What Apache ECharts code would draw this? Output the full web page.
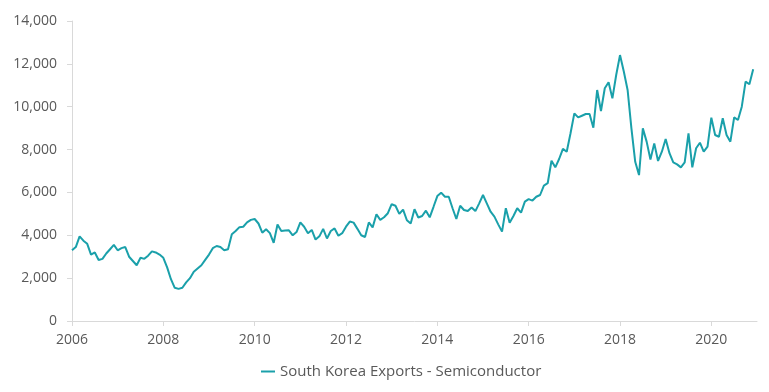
<!DOCTYPE html>
<html>
<head>
<meta charset="utf-8">
<script src="https://cdn.jsdelivr.net/npm/echarts@6/dist/echarts.min.js"></script>
<style>html,body{margin:0;padding:0;background:#fff}#chart{width:769px;height:392px}</style>
</head>
<body>
<div id="chart"></div>
<script>
// Monthly values, Jan 2006 - Dec 2020
var startYear = 2006;
var endYear = 2021; // axis end (Jan 2021)
var seriesName = 'South Korea Exports - Semiconductor';
var v2006 = [3300, 3450, 3950, 3750, 3600, 3100, 3200, 2850, 2900, 3150, 3350, 3550];
var v2007 = [3300, 3400, 3450, 3000, 2800, 2600, 2950, 2900, 3050, 3250, 3200, 3100];
var v2008 = [2950, 2500, 1950, 1550, 1500, 1550, 1800, 2000, 2300, 2450, 2600, 2850];
var v2009 = [3100, 3400, 3500, 3450, 3300, 3350, 4050, 4200, 4380, 4400, 4600, 4720];
var v2010 = [4760, 4550, 4120, 4280, 4100, 3650, 4500, 4200, 4220, 4230, 4000, 4150];
var v2011 = [4600, 4400, 4100, 4250, 3800, 3950, 4300, 3850, 4200, 4320, 3980, 4100];
var v2012 = [4400, 4640, 4590, 4300, 4000, 3920, 4600, 4370, 4980, 4720, 4840, 5030];
var v2013 = [5450, 5380, 5000, 5200, 4700, 4550, 5220, 4830, 4900, 5150, 4840, 5330];
var v2014 = [5830, 5990, 5800, 5800, 5260, 4760, 5380, 5180, 5130, 5300, 5130, 5490];
var v2015 = [5880, 5490, 5100, 4870, 4510, 4170, 5260, 4590, 4900, 5260, 5060, 5570];
var v2016 = [5690, 5620, 5800, 5880, 6320, 6430, 7480, 7170, 7560, 8030, 7900, 8760];
var v2017 = [9690, 9500, 9580, 9660, 9660, 9020, 10780, 9800, 10860, 11140, 10390, 11480];
var v2018 = [12410, 11640, 10780, 8990, 7430, 6810, 8990, 8370, 7540, 8290, 7470, 7900];
var v2019 = [8490, 7830, 7400, 7310, 7170, 7400, 8760, 7170, 8060, 8320, 7900, 8140];
var v2020 = [9490, 8680, 8600, 9460, 8680, 8370, 9500, 9380, 10000, 11170, 11050, 11750];
var yTicks = [0, 2000, 4000, 6000, 8000, 10000, 12000, 14000];

var values = [].concat(v2006, v2007, v2008, v2009, v2010, v2011, v2012, v2013, v2014,
  v2015, v2016, v2017, v2018, v2019, v2020);
var months = [];
for (var y = startYear; y < endYear; y++) {
  for (var m = 1; m <= 12; m++) months.push(y + '-' + (m < 10 ? '0' : '') + m);
}
months.push(endYear + '-01');

function isEvenYearStart(idx) {
  var c = months[idx];
  return c.slice(5) === '01' && parseInt(c.slice(0, 4), 10) % 2 === 0;
}

var chart = echarts.init(document.getElementById('chart'), null, {renderer: 'canvas'});
var font = '"Open Sans", "Noto Sans", sans-serif';
chart.setOption({
  animation: false,
  backgroundColor: '#ffffff',
  grid: {left: 72, right: 12, top: 21, bottom: 71, containLabel: false},
  legend: {
    data: [seriesName],
    left: 256, top: 359,
    icon: 'rect', itemWidth: 14, itemHeight: 2,
    textStyle: {color: '#595959', fontSize: 15, fontFamily: font}
  },
  xAxis: {
    type: 'category',
    data: months,
    boundaryGap: false,
    axisLine: {lineStyle: {color: '#d9d9d9', width: 1}},
    axisTick: {show: true, length: 5, lineStyle: {color: '#d9d9d9'},
      interval: function (idx) { return isEvenYearStart(idx); }},
    axisLabel: {
      interval: function (idx) { return isEvenYearStart(idx) && months[idx] !== endYear + '-01'; },
      formatter: function (val) { return val.slice(0, 4); },
      color: '#595959', fontSize: 14, fontFamily: font, margin: 12
    },
    splitLine: {show: false}
  },
  yAxis: {
    type: 'value',
    min: yTicks[0], max: yTicks[yTicks.length - 1], interval: yTicks[1] - yTicks[0],
    axisLine: {show: true, lineStyle: {color: '#d9d9d9', width: 1}},
    axisTick: {show: true, length: 5, lineStyle: {color: '#d9d9d9'}},
    axisLabel: {
      color: '#595959', fontSize: 14, fontFamily: font, margin: 15,
      formatter: function (v) { return v.toLocaleString('en-US'); }
    },
    splitLine: {show: false}
  },
  series: [{
    name: seriesName,
    type: 'line',
    data: values,
    symbol: 'none',
    lineStyle: {color: '#1aa0aa', width: 2},
    itemStyle: {color: '#1aa0aa'}
  }]
});
</script>
</body>
</html>
